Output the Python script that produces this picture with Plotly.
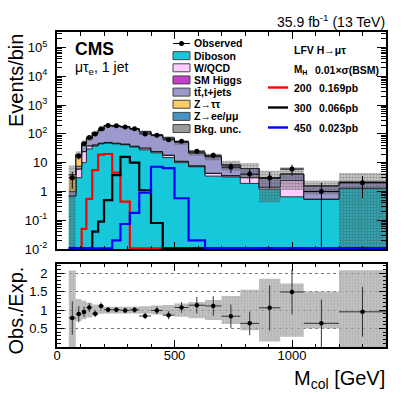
import numpy as np
import plotly.graph_objects as go
from plotly.subplots import make_subplots

# bin edges of M_col [GeV]
edges = [50, 80, 105, 125, 150, 175, 200, 235, 270, 310, 350, 400, 450, 500,
         560, 630, 700, 780, 860, 950, 1050, 1200, 1400]

observed = [3, 17, 45, 75, 100, 150, 195, 190, 175, 150, 100, 90, 62, 55,
            25, 18, 7, 4, 3, 6, 1, 2]

# background stack (events/bin)
diboson = [0.7, 3, 10, 30, 38, 45, 48, 45, 42, 35, 28, 22, 15, 10,
           7.2, 3.4, 3.2, 1.9, 1.2, 0.65, 0.54, 1.3]
wqcd = [0, 3, 14, 8, 3, 2, 2, 2, 2, 2, 4, 2, 3, 1,
        0.5, 0.8, 0.3, 1.1, 0.2, 1.75, 0, 0]
smhiggs = [0, 0.05, 0.3, 0.5, 0.5, 0.5, 0.5, 0.5, 0.5, 0.4, 0.4, 0.3, 0.3, 0.2,
           0.1, 0.1, 0.05, 0.05, 0, 0, 0, 0]
ttbar = [0.3, 1.45, 20.3, 30, 68, 86, 141, 139, 131.5, 110.6, 85.6, 66, 53.2, 39.9,
         14.1, 11.7, 4.8, 3.2, 1.43, 1.63, 1.02, 0.8]
ztautau = [2.8, 11.5, 2.7, 1.5, 1.5, 1.5, 1.5, 1.5, 1, 1, 1, 0.7, 0.5, 0.3,
           0.2, 0.2, 0.05, 0, 0, 0, 0, 0]
zll = [0.02, 0.1, 0.1, 0.1, 0.1, 0.1, 0.1, 0, 0, 0, 0, 0, 0, 0,
       0, 0, 0, 0, 0, 0, 0, 0]
bkg_rel_unc = [1.07, 0.3, 0.25, 0.2, 0.15, 0.1, 0.09, 0.09, 0.09, 0.09, 0.1, 0.12, 0.14, 0.18,
               0.22, 0.27, 0.38, 0.55, 0.85, 0.72, 0.5, 1.08]

# LFV H -> mu tau signals (0.01 x sigma(BSM))
sig200 = [0, 0, 0.05, 0.55, 5.5, 19, 20, 4.5, 0.44, 0, 0, 0, 0, 0,
          0, 0, 0, 0, 0, 0, 0, 0]
sig300 = [0, 0, 0, 0, 0.04, 0.09, 0.5, 3.7, 16, 10, 1.1, 0.08, 0, 0,
          0, 0, 0, 0, 0, 0, 0, 0]
sig450 = [0, 0, 0, 0, 0, 0, 0, 0.02, 0.074, 0.18, 0.9, 7.2, 6.5, 0.58,
          0.02, 0, 0, 0, 0, 0, 0, 0]

FONT = "Liberation Sans, Arial, Helvetica, sans-serif"
W, H = 407, 395
L, R, T, B = 57, 21, 32, 48


def px(x):
    return (x - L) / (W - L - R)


def py(y):
    return (H - B - y) / (H - T - B)


def step(v):
    v = list(v)
    return v + [v[-1]]


edges_a = np.array(edges, dtype=float)
centers = 0.5 * (edges_a[1:] + edges_a[:-1])
halfw = 0.5 * (edges_a[1:] - edges_a[:-1])
obs = np.array(observed, dtype=float)

components = [
    ("Diboson", diboson, "#17C8DA"),
    ("W/QCD", wqcd, "#FFCCFF"),
    ("SM Higgs", smhiggs, "#C43FCB"),
    ("ttbar", ttbar, "#9C9ACC"),
    ("Ztautau", ztautau, "#FFCC66"),
    ("Zll", zll, "#4494C6"),
]

fig = make_subplots(rows=2, cols=1)

# stacked backgrounds as step fills
base = np.full(len(obs), 1e-4)
fig.add_trace(go.Scatter(x=edges, y=step(base), mode="lines", line=dict(width=0, shape="hv"),
                         hoverinfo="skip"), row=1, col=1)
cum = np.zeros(len(obs))
for name, vals, col in components:
    cum = cum + np.array(vals, dtype=float)
    fig.add_trace(go.Scatter(x=edges, y=step(np.maximum(cum, 1e-4)), mode="lines",
                             line=dict(color="black", width=0.8, shape="hv"),
                             fill="tonexty", fillcolor=col, name=name), row=1, col=1)
expected = cum

# background uncertainty band
rel = np.array(bkg_rel_unc)
lo = np.maximum(expected * (1 - rel), 1e-4)
hi = expected * (1 + rel)
fig.add_trace(go.Scatter(x=edges, y=step(lo), mode="lines", line=dict(width=0, shape="hv"),
                         hoverinfo="skip"), row=1, col=1)
fig.add_trace(go.Scatter(x=edges, y=step(hi), mode="lines", line=dict(width=0, shape="hv"),
                         fill="tonexty", fillcolor="rgba(100,100,100,0.38)",
                         fillpattern=dict(shape="+", fgcolor="rgba(45,45,45,0.6)", size=3,
                                          solidity=0.35, fillmode="overlay")), row=1, col=1)

# signal lines
floor = 0.0106
for vals, col in [(sig200, "#FF0000"), (sig300, "#000000"), (sig450, "#0000FF")]:
    v = np.array(vals, dtype=float)
    v = np.where(v > 0, v, floor)
    fig.add_trace(go.Scatter(x=edges, y=step(v), mode="lines",
                             line=dict(color=col, width=2.2, shape="hv")), row=1, col=1)

# observed
err = np.sqrt(obs)
fig.add_trace(go.Scatter(x=centers, y=obs, mode="markers",
                         marker=dict(color="black", size=5),
                         error_y=dict(type="data", array=err, arrayminus=np.minimum(err, 0.999 * obs),
                                      color="black", thickness=1, width=0),
                         error_x=dict(type="data", array=halfw, color="black", thickness=1, width=0)),
              row=1, col=1)

# ratio panel
fig.add_trace(go.Scatter(x=edges, y=step(np.maximum(1 - rel, 0)), mode="lines",
                         line=dict(width=0, shape="hv"), hoverinfo="skip"), row=2, col=1)
fig.add_trace(go.Scatter(x=edges, y=step(1 + rel), mode="lines", line=dict(width=0, shape="hv"),
                         fill="tonexty", fillcolor="rgba(175,175,175,0.75)",
                         fillpattern=dict(shape="+", fgcolor="rgba(130,130,130,0.6)", size=3,
                                          solidity=0.3, fillmode="overlay")), row=2, col=1)
ratio = obs / expected
ratio_err = np.sqrt(obs) / expected
fig.add_trace(go.Scatter(x=centers, y=ratio, mode="markers",
                         marker=dict(color="black", size=4.5),
                         error_y=dict(type="data", array=ratio_err, color="#333333", thickness=1, width=0),
                         error_x=dict(type="data", array=halfw, color="#333333", thickness=1, width=0)),
              row=2, col=1)

axis_common = dict(showline=True, linecolor="black", linewidth=2, mirror="ticks", automargin=False,
                   ticks="inside", tickcolor="black", tickwidth=1, showgrid=False, zeroline=False)

fig.update_xaxes(range=[0, 1400], ticklen=7, tickvals=[0, 500, 1000], ticktext=["0", "500", "1000"],
                 minor=dict(ticks="inside", ticklen=3.5, dtick=100, tick0=0, tickcolor="black"),
                 tickfont=dict(size=13), ticklabelstandoff=-5, **axis_common)
fig.update_xaxes(showticklabels=False, row=1, col=1)

dec = list(range(-2, 6))
dec_txt = ["10<sup>-2</sup>", "10<sup>-1</sup>", "1", "10", "10<sup>2</sup>",
           "10<sup>3</sup>", "10<sup>4</sup>", "10<sup>5</sup>"]
minor_vals = [m * 10.0 ** d for d in range(-2, 6) for m in range(2, 10)]

fig.update_layout(
    width=W, height=H,
    margin=dict(l=L, r=R, t=T, b=B, autoexpand=False),
    paper_bgcolor="white", plot_bgcolor="white",
    showlegend=False,
    font=dict(family=FONT, color="black", size=13),
    yaxis=dict(domain=[py(249), 1], type="log", range=[-2, 5.54],
               tickmode="array", tickvals=[10.0 ** d for d in dec], ticktext=dec_txt,
               ticklen=9, tickfont=dict(size=13), ticklabelstandoff=5,
               minor=dict(tickmode="array", tickvals=minor_vals, ticks="inside",
                          ticklen=5, tickcolor="black"),
               **axis_common),
    yaxis2=dict(domain=[0, py(263.5)], range=[0, 2.26],
                tickmode="array", tickvals=[0.5, 1, 1.5, 2], ticktext=["0.5", "1", "1.5", "2"],
                ticklen=7, tickfont=dict(size=13), ticklabelstandoff=5,
                minor=dict(ticks="inside", ticklen=3.5, dtick=0.1, tick0=0, tickcolor="black"),
                showgrid=True, gridcolor="#777777", griddash="dot", gridwidth=1,
                showline=True, linecolor="black", linewidth=2, mirror="ticks", automargin=False,
                ticks="inside", tickcolor="black", tickwidth=1, zeroline=False),
)

ann = []
shapes = []


def text(x, y, s, size, xanchor="left", yanchor="middle", bold=False, angle=0):
    ann.append(dict(x=px(x), y=py(y), xref="paper", yref="paper", text=f"<b>{s}</b>" if bold else s,
                    showarrow=False, xanchor=xanchor, yanchor=yanchor, textangle=angle,
                    font=dict(family=FONT, size=size, color="black")))


text(387, 21, "35.9 fb<sup>-1</sup> (13 TeV)", 14, xanchor="right")
text(73, 49, "CMS", 17.5, bold=True)
text(73, 68, "μτ<sub>e</sub>, 1 jet", 14)
text(15.5, 32, "Events/bin", 20, xanchor="center", yanchor="top", angle=-90)
text(15.5, 311, "Obs./Exp.", 20, xanchor="center", angle=-90)
text(387, 379, "M<sub>col</sub> [GeV]", 20, xanchor="right")

# legend, first column
row_y = [43.5 + 12.15 * i for i in range(8)]
labels = ["Observed", "Diboson", "W/QCD", "SM Higgs", "tt\u0304,t+jets", "Z→ττ", "Z→ee/μμ", "Bkg. unc."]
box_cols = [None] + [c for _, _, c in components] + ["#9a9a9a"]
for yy, lab, col in zip(row_y, labels, box_cols):
    if col is None:
        shapes.append(dict(type="line", xref="paper", yref="paper", x0=px(173), x1=px(190),
                           y0=py(yy), y1=py(yy), line=dict(color="black", width=1)))
        shapes.append(dict(type="circle", xref="paper", yref="paper", x0=px(179), x1=px(184),
                           y0=py(yy + 2.5), y1=py(yy - 2.5), fillcolor="black",
                           line=dict(color="black", width=0)))
    else:
        shapes.append(dict(type="rect", xref="paper", yref="paper", x0=px(173), x1=px(190),
                           y0=py(yy + 4), y1=py(yy - 4), fillcolor=col,
                           line=dict(color="#444444", width=1)))
    text(192, yy, lab, 10.5, bold=True)

# legend, second column
text(291.5, 49.5, "LFV H→μτ", 10.5, bold=True)
text(291.5, 69.5, "M<sub>H</sub>", 10, bold=True)
text(312.5, 69.5, "0.01×σ(BSM)", 10.5, bold=True)
for yy, col, m, xs in [(87.5, "#FF0000", "200", "0.169pb"), (107.5, "#000000", "300", "0.066pb"),
                       (127.5, "#0000FF", "450", "0.023pb")]:
    shapes.append(dict(type="line", xref="paper", yref="paper", x0=px(268), x1=px(288),
                       y0=py(yy), y1=py(yy), line=dict(color=col, width=2.4)))
    text(291.5, yy, m, 10.5, bold=True)
    text(316.5, yy, xs, 10.5, bold=True)

fig.update_layout(annotations=ann, shapes=shapes)
# the page body keeps its default 8px margin otherwise
fig.write_html("out.html", config={"displayModeBar": False},
               post_script="document.body.style.margin='0px';")
